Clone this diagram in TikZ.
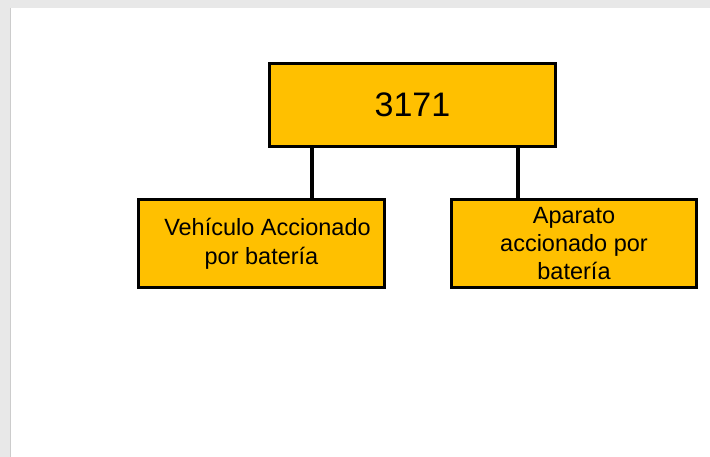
\documentclass[tikz,border=0pt]{standalone}
\usepackage{fontspec}
\setmainfont{Liberation Sans}
\usepackage{xcolor}
\definecolor{boxyellow}{RGB}{255,192,0}
\definecolor{slidegray}{RGB}{232,232,232}
\usepackage{tikz}
\tikzstyle{unit} = [rectangle, draw, fill=boxyellow, line width=3pt,
  inner sep=2pt, align=center]

\begin{document}
\begin{tikzpicture}[x=1pt, y=-1pt]
\tikzstyle{link} = [line width=3.5pt]
  \useasboundingbox (0,0) rectangle (710,457);
  % slide frame
  \fill[slidegray] (0,0) rectangle (710,8);
  \fill[slidegray] (0,0) rectangle (10,457);
  \draw[gray!40, line width=0.6pt] (10,8) -- (10,457);
  % code
  \node[unit, minimum width=286pt, minimum height=83pt,
    font=\fontsize{34}{40}\selectfont] (code) at (412.5, 105) {3171};
  % vehicle
  \node[unit, minimum width=246pt, minimum height=88pt,
    font=\fontsize{23.5}{29}\selectfont] (vehicle) at (261.5, 243.5)
    {\hspace*{12pt}Vehículo Accionado\\por batería};
  % device
  \node[unit, minimum width=245pt, minimum height=88pt,
    font=\fontsize{23.5}{28}\selectfont] (device) at (574, 243.5)
    {Aparato\\accionado por\\batería};
  \coordinate (kl) at (312, 0);
  \coordinate (kr) at (518, 0);
  \draw[link] (code.south -| kl) -- (vehicle.north -| kl);
  \draw[link] (code.south -| kr) -- (device.north -| kr);
\end{tikzpicture}
\end{document}
